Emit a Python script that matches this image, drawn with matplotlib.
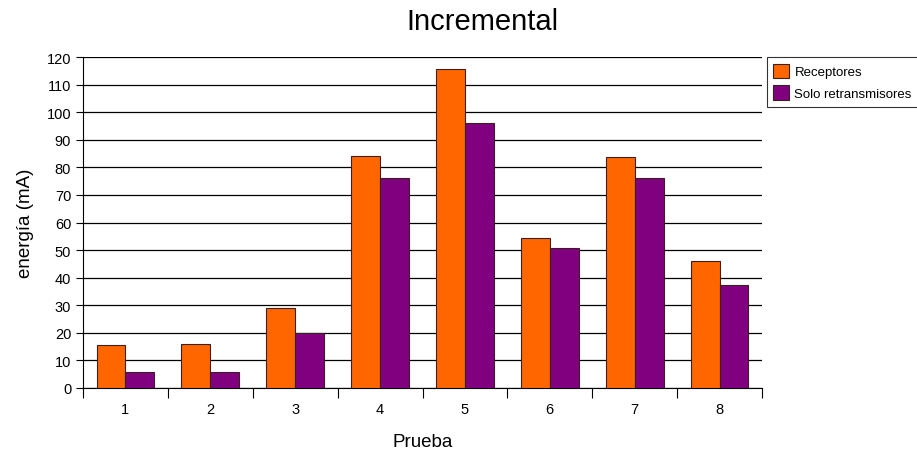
import numpy as np
import matplotlib.pyplot as plt

plt.rcParams['font.family'] = ['Liberation Sans', 'DejaVu Sans']

pruebas = ['1', '2', '3', '4', '5', '6', '7', '8']
receptores = [15.6, 16.0, 29.1, 84.2, 115.6, 54.5, 83.6, 46.1]
solo_retrans = [5.7, 5.7, 19.8, 76.3, 96.1, 50.8, 76.3, 37.4]

fig = plt.figure(figsize=(9.17, 4.52), dpi=100)
ax = fig.add_axes([83 / 917, 1 - 389 / 452, (762 - 83) / 917, (389 - 58) / 452])

x = np.arange(1, len(pruebas) + 1)
w = 0.34
ax.bar(x - w / 2, receptores, w, color='#ff6600', edgecolor='#3a2020',
       linewidth=0.8, label='Receptores', zorder=3)
ax.bar(x + w / 2, solo_retrans, w, color='#800080', edgecolor='#3a2020',
       linewidth=0.8, label='Solo retransmisores', zorder=3)

ax.set_xlim(0.5, len(pruebas) + 0.5)
ax.set_ylim(0, 120)
ax.set_yticks(range(0, 121, 10))
ax.yaxis.grid(True, color='black', linewidth=0.9, zorder=0)
ax.tick_params(axis='y', length=5, labelsize=10.5, direction='out')

# category labels centred, tick marks on the boundaries
ax.set_xticks(np.arange(0.5, len(pruebas) + 1, 1.0))
ax.set_xticklabels([])
ax.set_xticks(x, minor=True)
ax.set_xticklabels(pruebas, minor=True, fontsize=10.5)
ax.tick_params(axis='x', which='major', length=7, direction='out')
ax.tick_params(axis='x', which='minor', length=0, pad=10)

for s in ['top', 'right']:
    ax.spines[s].set_visible(False)

fig.text(482 / 917, 1 - 22 / 452, 'Incremental', fontsize=21,
         ha='center', va='center')
ax.set_xlabel('Prueba', fontsize=13.5, labelpad=12)
ax.set_ylabel('energía (mA)', fontsize=13.5, labelpad=9)

leg = ax.legend(loc='upper left', bbox_to_anchor=(1.007, 1.0), fontsize=9.5,
                frameon=True, fancybox=False, edgecolor='black',
                handlelength=1.2, handleheight=1.3, handletextpad=0.4,
                borderpad=0.5, labelspacing=0.55, borderaxespad=0)
leg.get_frame().set_linewidth(0.8)

fig.savefig('out.png', dpi=100)
